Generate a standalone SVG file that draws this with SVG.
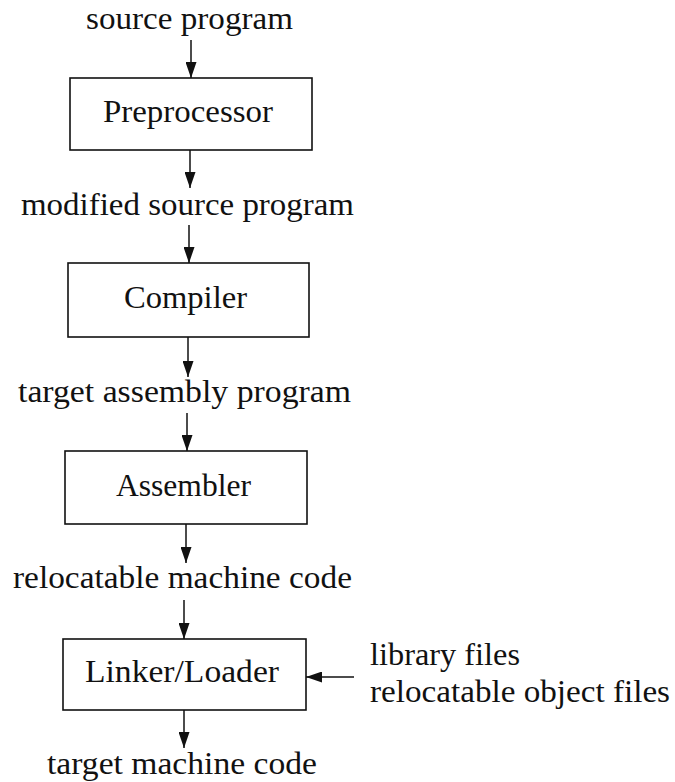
<svg xmlns="http://www.w3.org/2000/svg" width="675" height="782" viewBox="0 0 675 782">
<style>
text{font-family:"Liberation Serif","Times New Roman",serif;font-size:31px;fill:#111;}
.c{text-anchor:middle;}
.box{fill:#fff;stroke:#111;stroke-width:1.6;}
line{stroke:#111;stroke-width:1.5;}
</style>
<defs>
<marker id="ah" markerWidth="16" markerHeight="11" refX="16" refY="5.5" orient="auto" markerUnits="userSpaceOnUse">
<path d="M0,0 L16,5.5 L0,11 Z" fill="#111"/>
</marker>
</defs>
<rect width="675" height="782" fill="#fff"/>
<g id="connectors">
<line x1="191" y1="40" x2="191" y2="78" marker-end="url(#ah)"/>
<line x1="190" y1="150" x2="190" y2="188" marker-end="url(#ah)"/>
<line x1="189" y1="225" x2="189" y2="263" marker-end="url(#ah)"/>
<line x1="188" y1="337" x2="188" y2="377" marker-end="url(#ah)"/>
<line x1="187" y1="413" x2="187" y2="451" marker-end="url(#ah)"/>
<line x1="186" y1="524" x2="186" y2="563" marker-end="url(#ah)"/>
<line x1="184" y1="600" x2="184" y2="639" marker-end="url(#ah)"/>
<line x1="184" y1="710" x2="184" y2="748" marker-end="url(#ah)"/>
<line x1="354" y1="677" x2="306" y2="677" marker-end="url(#ah)"/>
</g>
<g id="source-program"><text x="189.5" y="29" class="c" textLength="207" lengthAdjust="spacingAndGlyphs">source program</text></g>
<g id="preprocessor">
<rect class="box" x="70" y="78" width="242" height="72"/>
<text x="188" y="122" class="c" textLength="170" lengthAdjust="spacingAndGlyphs">Preprocessor</text>
</g>
<g id="modified-source-program"><text x="187.5" y="215" class="c" textLength="333" lengthAdjust="spacingAndGlyphs">modified source program</text></g>
<g id="compiler">
<rect class="box" x="68" y="263" width="241" height="74"/>
<text x="185.5" y="308" class="c" textLength="123" lengthAdjust="spacingAndGlyphs">Compiler</text>
</g>
<g id="target-assembly-program"><text x="184.5" y="402" class="c" textLength="333" lengthAdjust="spacingAndGlyphs">target assembly program</text></g>
<g id="assembler">
<rect class="box" x="65" y="451" width="242" height="73"/>
<text x="183.5" y="496" class="c" textLength="135" lengthAdjust="spacingAndGlyphs">Assembler</text>
</g>
<g id="relocatable-machine-code"><text x="182.5" y="588" class="c" textLength="339" lengthAdjust="spacingAndGlyphs">relocatable machine code</text></g>
<g id="linker-loader">
<rect class="box" x="63" y="639" width="243" height="71"/>
<text x="182" y="682" class="c" textLength="194" lengthAdjust="spacingAndGlyphs">Linker/Loader</text>
</g>
<g id="library-inputs">
<text x="370" y="665" textLength="150" lengthAdjust="spacingAndGlyphs">library files</text>
<text x="370" y="702" textLength="300" lengthAdjust="spacingAndGlyphs">relocatable object files</text>
</g>
<g id="target-machine-code"><text x="182" y="774" class="c" textLength="270" lengthAdjust="spacingAndGlyphs">target machine code</text></g>
</svg>
